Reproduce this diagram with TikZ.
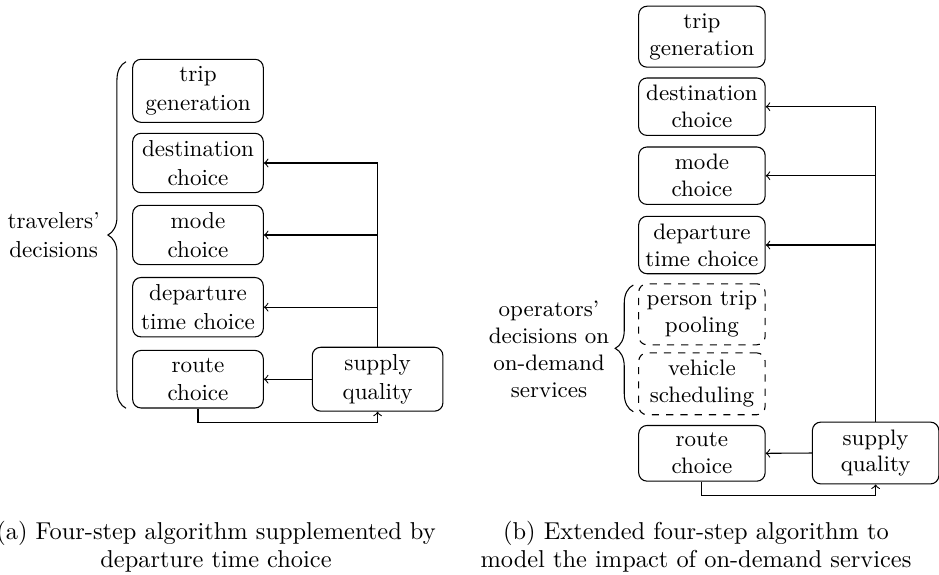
\documentclass[tikz,border=0pt]{standalone}
\usetikzlibrary{decorations.pathreplacing}
\begin{document}
\begin{tikzpicture}[x=0.42pt,y=-0.42pt,
  stepbox/.style={draw,rounded corners=3.5pt,align=center,inner xsep=0pt,inner ysep=3.1pt,line width=0.45pt},
  lbox/.style={stepbox,text width=54.85pt,font=\fontsize{9.7}{11.9}\selectfont},
  rbox/.style={stepbox,text width=53.1pt,font=\fontsize{9.4}{11.3}\selectfont},
  opbox/.style={rbox,dashed},
  link/.style={line width=0.45pt},
  arr/.style={link,->},
  grp/.style={decorate,decoration={brace,amplitude=7.6pt},line width=0.45pt},
  captext/.style={align=center,font=\fontsize{10.25}{11.6}\selectfont}]
\useasboundingbox (0,0) rectangle (939,574);

% ---- (a) four-step algorithm with departure time choice
\node[lbox] (tgL)  at (198,90.8)  {trip\\generation};
\node[lbox] (dcL)  at (198,163)   {destination\\choice};
\node[lbox] (mcL)  at (198,235)   {mode\\choice};
\node[lbox] (dtL)  at (198,307.2) {departure\\time choice};
\node[lbox] (rcL)  at (198,379.2) {route\\choice};
\node[lbox] (sqL)  at (377.6,379.2) {supply\\quality};

\draw[link] (sqL.north) -- (sqL.north |- dcL.east);
\foreach \t in {dcL,mcL,dtL}
  \draw[arr] (sqL.north |- \t.east) -- (\t.east);
\draw[arr] (sqL.west) -- (rcL.east);
\draw[arr] (rcL.south) -- ++(0,14.4) -| (sqL.south);

\draw[grp] (126,408.3) -- (126,61.7);
\node[align=center,font=\fontsize{9.7}{11.9}\selectfont] (tvL) at (53.7,235) {travelers'\\decisions};

% ---- (b) extended algorithm with on-demand services
\node[rbox]  (tgR) at (701.9,36.7)  {trip\\generation};
\node[rbox]  (dcR) at (701.9,106.7) {destination\\choice};
\node[rbox]  (mcR) at (701.9,175.7) {mode\\choice};
\node[rbox]  (dtR) at (701.9,245)   {departure\\time choice};
\node[opbox] (ppR) at (701.9,314.3) {person trip\\pooling};
\node[opbox] (vsR) at (701.9,383.8) {vehicle\\scheduling};
\node[rbox]  (rcR) at (701.9,453.3) {route\\choice};
\node[rbox]  (sqR) at (875.6,453)   {supply\\quality};

\draw[link] (sqR.north) -- (sqR.north |- dcR.east);
\foreach \t in {dcR,mcR,dtR}
  \draw[arr] (sqR.north |- \t.east) -- (\t.east);
\draw[arr] (sqR.west) -- (rcR.east);
\draw[arr] (rcR.south) -- ++(0,14) -| (sqR.south);

\draw[grp] (633.3,411.7) -- (633.3,285);
\node[align=center,font=\fontsize{9.4}{11.3}\selectfont] (opR) at (549,349.3) {operators'\\decisions on\\on-demand\\services};

% ---- captions
\node[captext] (capA) at (216,547) {(a) Four-step algorithm supplemented by\\departure time choice};
\node[captext] (capB) at (696,547) {(b) Extended four-step algorithm to\\model the impact of on-demand services};
\end{tikzpicture}
\end{document}
